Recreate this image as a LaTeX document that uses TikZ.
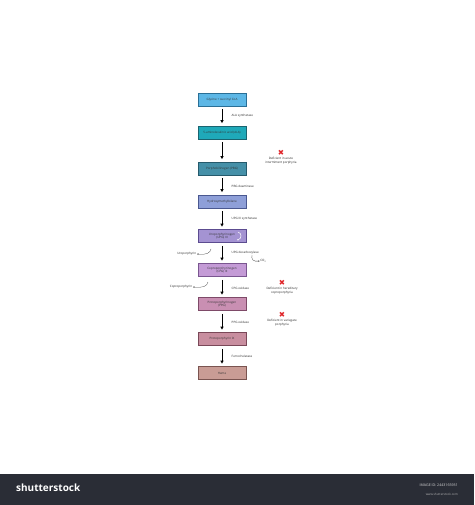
\documentclass[tikz,border=0pt]{standalone}
\usepackage{fontspec}
\setmainfont{Open Sans}
\newfontfamily\symfont{DejaVu Sans}
\usetikzlibrary{arrows.meta,positioning}
\definecolor{c1}{HTML}{5DB7E6}\definecolor{d1}{HTML}{2A6F96}
\definecolor{c2}{HTML}{1FA9B9}\definecolor{d2}{HTML}{1A6470}
\definecolor{c3}{HTML}{4590A8}\definecolor{d3}{HTML}{255A6C}
\definecolor{c4}{HTML}{8E9FD8}\definecolor{d4}{HTML}{4A5890}
\definecolor{c5}{HTML}{A493D2}\definecolor{d5}{HTML}{5C4C90}
\definecolor{c6}{HTML}{C49BD6}\definecolor{d6}{HTML}{7A5690}
\definecolor{c7}{HTML}{C98FB2}\definecolor{d7}{HTML}{7E4A68}
\definecolor{c8}{HTML}{C88E9F}\definecolor{d8}{HTML}{7A4858}
\definecolor{c9}{HTML}{C99C95}\definecolor{d9}{HTML}{7A5450}
\definecolor{foot}{HTML}{2A2D36}
\definecolor{xred}{HTML}{E0262A}
\tikzset{
  stepbox/.style={draw, line width=0.7pt, minimum width=48pt, minimum height=13pt,
    inner sep=0.5pt, align=center, font=\fontsize{3}{3.5}\selectfont, text=black!80},
  lab/.style={font=\fontsize{3}{3.5}\selectfont, text=black!85, align=center, inner sep=0.5pt},
  flow/.style={-{Triangle[length=3pt,width=3pt]}, line width=0.7pt, shorten <=3pt, shorten >=2.5pt},
  thin/.style={-{Stealth[length=1.5pt,width=1.5pt]}, line width=0.3pt, black!70},
  xmark/.style={font=\symfont\fontsize{7.5}{7.5}\selectfont\bfseries, text=xred, inner sep=0pt}
}
\begin{document}
\begin{tikzpicture}[x=1pt,y=-1pt]
\useasboundingbox (0,0) rectangle (474,505);
\fill[white] (0,0) rectangle (474,505);
% boxes
\node[stepbox, fill=c1, draw=d1] (b1) at (222,99.5) {Glycine + succinyl CoA};
\node[stepbox, fill=c2, draw=d2] (b2) at (222,132.5) {5-aminolevulinic acid (ALA)};
\node[stepbox, fill=c3, draw=d3] (b3) at (222,168.5) {Porphobilinogen (PBG)};
\node[stepbox, fill=c4, draw=d4] (b4) at (222,201.5) {Hydroxymethylbilane};
\node[stepbox, fill=c5, draw=d5] (b5) at (222,236) {Uroporphyrinogen\\(UPG) III};
\node[stepbox, fill=c6, draw=d6] (b6) at (222,270) {Coproporphyrinogen\\(CPG) III};
\node[stepbox, fill=c7, draw=d7] (b7) at (222,304) {Protoporphyrinogen\\(PPG)};
\node[stepbox, fill=c8, draw=d8] (b8) at (222,339) {Protoporphyrin IX};
\node[stepbox, fill=c9, draw=d9] (b9) at (222,373) {Heme};
% arrows
\draw[flow] (b1) -- (b2);
\draw[flow] (b2) -- (b3);
\draw[flow] (b3) -- (b4);
\draw[flow] (b4) -- (b5);
\draw[flow] (b5) -- (b6);
\draw[flow] (b6) -- (b7);
\draw[flow] (b7) -- (b8);
\draw[flow] (b8) -- (b9);
% enzyme labels
\node[lab, anchor=west] (e1) at (231,116) {ALA synthetase};
\node[lab, anchor=west] (e2) at (231,186) {PBG deaminase};
\node[lab, anchor=west] (e3) at (231,219) {UPG III synthetase};
\node[lab, anchor=west] (e4) at (231,253) {UPG decarboxylase};
\node[lab, anchor=west] (e5) at (231,288) {CPG oxidase};
\node[lab, anchor=west] (e6) at (231,322) {PPG oxidase};
\node[lab, anchor=west] (e7) at (231,356) {Ferrochelatase};
% side products
\node[lab, anchor=east] (u) at (197,254) {Uroporphyrin};
\node[lab, anchor=east] (cp) at (193,287) {Coproporphyrin};
\node[lab] (co2) at (263,261) {CO{\fontsize{2}{2}\selectfont\raisebox{-0.6pt}{2}}};
\coordinate (us) at (211,249);
\coordinate (cs) at (208,282);
\draw[thin] (us) .. controls (210,253) and (207,255) .. (u.east);
\draw[thin] (cs) .. controls (207,286) and (204,288) .. (cp.east);
\coordinate (c2s) at (252,255);
\draw[thin] (c2s) .. controls (251,259) and (253,262) .. (co2.west);
\coordinate (ra) at (238,232);
\coordinate (rb) at (237,240);
\draw[thin, draw=white, line width=0.5pt] (ra) .. controls (242,233) and (242,239) .. (rb);
% deficiencies
\node[xmark] (x1) at (281,153) {\char"2716};
\node[lab, below=1pt of x1] (t1) {Deficient in acute\\intermittent porphyria};
\node[xmark] (x2) at (282,283) {\char"2716};
\node[lab, below=1pt of x2] (t2) {Deficient in hereditary\\coproporphyria};
\node[xmark] (x3) at (282,315) {\char"2716};
\node[lab, below=1pt of x3] (t3) {Deficient in variegate\\porphyria};
% footer
\fill[foot] (0,474) rectangle (474,505);
\node[anchor=west, text=white, font=\fontsize{10}{10}\selectfont\bfseries, inner sep=0pt] (ss) at (16,488) {shutterstock};
\node[anchor=east, text=white!85!black, font=\fontsize{3.6}{4}\selectfont, inner sep=0pt] (id) at (458,485) {IMAGE ID: 2443165931};
\node[anchor=east, text=white!70!black, font=\fontsize{3}{4}\selectfont, inner sep=0pt] (url) at (458,494) {www.shutterstock.com};
\end{tikzpicture}
\end{document}
